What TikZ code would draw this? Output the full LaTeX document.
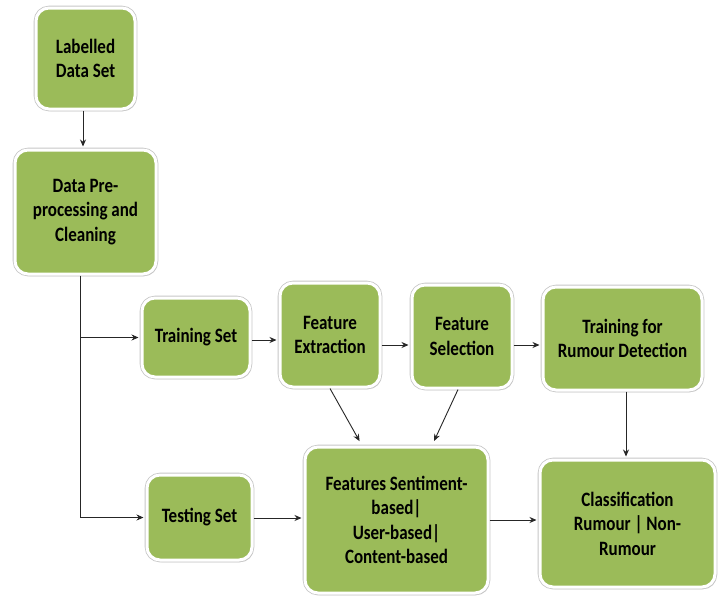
\documentclass[tikz,border=0pt]{standalone}
\usepackage{fontspec}
\usepackage{graphicx}
\setmainfont{Carlito}
\usetikzlibrary{shadows,arrows.meta}
\definecolor{boxgreen}{RGB}{155,187,89}
\newcommand{\sy}[1]{\scalebox{1}[1.2]{#1}}
\begin{document}
\begin{tikzpicture}[x=1pt,y=-1pt,
  box/.style={rectangle, rounded corners=13pt, fill=boxgreen, draw=white, line width=3pt,
    drop shadow={shadow xshift=1.5pt, shadow yshift=-2pt, fill=black!40, opacity=0.5},
    preaction={draw=black!22, line width=4.6pt},
    inner sep=0pt, align=center, text=black,
    font=\bfseries\fontsize{17}{24.5}\selectfont},
  arr/.style={draw=black!85, line width=0.9pt, -{Stealth[length=7pt,width=6pt]}, shorten >=2pt},
  ln/.style={draw=black!85, line width=0.9pt}]
\useasboundingbox (0,0) rectangle (718,598);
\fill[white] (0,0) rectangle (718,598);
\node[box, minimum width=99pt, minimum height=101pt] (lds) at (85.5,58.5) {\sy{Labelled}\\\sy{Data Set}};
\node[box, minimum width=141pt, minimum height=124pt] (dpc) at (85.5,212) {\sy{Data Pre-}\\\sy{processing and}\\\sy{Cleaning}};
\node[box, minimum width=108pt, minimum height=79pt] (ts) at (196,337.5) {\sy{Training Set}};
\node[box, minimum width=100pt, minimum height=104pt] (fe) at (330,335) {\sy{Feature}\\\sy{Extraction}};
\node[box, minimum width=100pt, minimum height=103pt] (fs) at (462,336.5) {\sy{Feature}\\\sy{Selection}};
\node[box, minimum width=159pt, minimum height=103pt] (trd) at (622.5,338.5) {\sy{Training for}\\\sy{Rumour Detection}};
\node[box, minimum width=105pt, minimum height=85pt] (tes) at (199.5,517.5) {\sy{Testing Set}};
\node[box, minimum width=183pt, minimum height=146pt] (fsb) at (396.5,520) {\sy{Features Sentiment-}\\\sy{based|}\\\sy{User-based|}\\\sy{Content-based}};
\node[box, minimum width=175pt, minimum height=127pt] (cl) at (627.5,523.5) {\sy{Classification}\\\sy{Rumour | Non-}\\\sy{Rumour}};
\coordinate (j1) at (80,337.5);
\coordinate (j2) at (80,517.5);
\draw[arr] (lds.south -| 83,0) -- (dpc.north -| 83,0);
\draw[ln] (dpc.south -| j1) -- (j2);
\draw[arr] (j1) -- (ts.west);
\draw[arr] (j2) -- (tes.west);
\draw[arr] (ts.east |- 0,340) -- (fe.west |- 0,340);
\draw[arr] (fe.east |- 0,345) -- (fs.west |- 0,345);
\draw[arr] (fs.east |- 0,345) -- (trd.west |- 0,345);
\draw[arr] (trd.south -| 626,0) -- (cl.north -| 626,0);
\draw[arr, shorten >=5pt] (fe.south) -- (fsb.north -| 362,0);
\draw[arr, shorten >=5pt] (fs.south -| 458,0) -- (fsb.north -| 432,0);
\draw[arr] (tes.east |- 0,518) -- (fsb.west |- 0,518);
\draw[arr] (fsb.east |- 0,520) -- (cl.west |- 0,520);
\end{tikzpicture}
\end{document}
